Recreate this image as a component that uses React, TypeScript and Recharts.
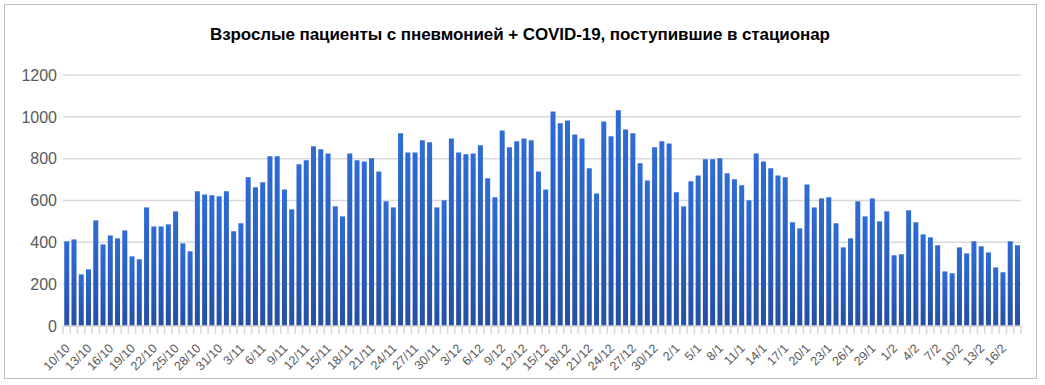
import React from "react";
import { BarChart, Bar, XAxis, YAxis, CartesianGrid } from "recharts";

const TITLE = "Взрослые пациенты с пневмонией + COVID-19, поступившие в стационар";

const dates = (
  "10/10 11/10 12/10 13/10 14/10 15/10 16/10 17/10 18/10 19/10 20/10 21/10 22/10 23/10 24/10 25/10 26/10 27/10 28/10 29/10 30/10 31/10 " +
  "1/11 2/11 3/11 4/11 5/11 6/11 7/11 8/11 9/11 10/11 11/11 12/11 13/11 14/11 15/11 16/11 17/11 18/11 19/11 20/11 21/11 22/11 23/11 24/11 25/11 26/11 27/11 28/11 29/11 30/11 " +
  "1/12 2/12 3/12 4/12 5/12 6/12 7/12 8/12 9/12 10/12 11/12 12/12 13/12 14/12 15/12 16/12 17/12 18/12 19/12 20/12 21/12 22/12 23/12 24/12 25/12 26/12 27/12 28/12 29/12 30/12 31/12 " +
  "1/1 2/1 3/1 4/1 5/1 6/1 7/1 8/1 9/1 10/1 11/1 12/1 13/1 14/1 15/1 16/1 17/1 18/1 19/1 20/1 21/1 22/1 23/1 24/1 25/1 26/1 27/1 28/1 29/1 30/1 31/1 " +
  "1/2 2/2 3/2 4/2 5/2 6/2 7/2 8/2 9/2 10/2 11/2 12/2 13/2 14/2 15/2 16/2 17/2 18/2"
).split(" ");

const octNov = [
  405, 414, 247, 271, 505, 390, 433, 419, 457, 333, 319, 567, 476, 476, 486, 548, 395, 357, 644, 629, 625, 620,
  644, 453, 491, 711, 663, 687, 811, 811, 653, 558, 773, 792, 859, 845, 825, 572, 524, 825, 792, 787, 802, 739,
  596, 567, 921, 830, 830, 888, 878, 567,
];
const dec = [
  601, 897, 830, 821, 825, 864, 706, 615, 935, 854, 883, 897, 888, 739, 653, 1026, 969, 983, 916, 897, 754, 634,
  978, 907, 1031, 940, 921, 778, 696, 854, 883,
];
const jan = [
  873, 639, 572, 692, 720, 797, 797, 802, 730, 701, 673, 601, 825, 787, 754, 720, 711, 496, 467, 677, 567, 610,
  615, 491, 376, 419, 596, 524, 610, 500, 548,
];
const feb = [338, 343, 553, 496, 438, 424, 386, 261, 252, 376, 347, 405, 381, 352, 280, 257, 405, 386];

const patients = [...octNov, ...dec, ...jan, ...feb];
const yTicks = [0, 200, 400, 600, 800, 1000, 1200];

const data = dates.map((d, i) => ({ date: d, value: patients[i] }));

const W = 1045;
const H = 385;
const LEFT = 63;
const RIGHT = 24;
const STEP = (W - LEFT - RIGHT) / dates.length;
const GRAY = "#d9d9d9";
const TEXT = "#595959";

const DateTick = (props: any) => {
  const { x, y, payload, index } = props;
  const tx = x + 1;
  const ty = y + 20;
  return (
    <g>
      <line x1={x - STEP / 2} x2={x - STEP / 2} y1={y} y2={y + 8} stroke={GRAY} strokeWidth={1.5} />
      {index === dates.length - 1 && (
        <line x1={x + STEP / 2} x2={x + STEP / 2} y1={y} y2={y + 8} stroke={GRAY} strokeWidth={1.5} />
      )}
      {index % 3 === 0 && (
        <text
          x={tx}
          y={ty}
          dy="0.35em"
          textAnchor="end"
          transform={`rotate(-45, ${tx}, ${ty})`}
          fontSize={12.5}
          fill={TEXT}
        >
          {payload.value}
        </text>
      )}
    </g>
  );
};

export default function App() {
  return (
    <div
      style={{
        position: "fixed",
        left: 0,
        top: 0,
        width: W,
        height: H,
        background: "#fff",
        fontFamily: "'Liberation Sans', Arial, sans-serif",
      }}
    >
      <div
        style={{
          position: "absolute",
          left: 4,
          top: 4,
          width: 1033,
          height: 375,
          border: "1px solid #bfbfbf",
          boxSizing: "border-box",
        }}
      />
      <svg width={W} height={60} style={{ position: "absolute", left: 0, top: 0 }}>
        <text
          x={520}
          y={39.5}
          textAnchor="middle"
          fontWeight="bold"
          fontSize={17}
          textLength={620}
          lengthAdjust="spacing"
          fill="#000"
        >
          {TITLE}
        </text>
      </svg>
      <div style={{ position: "absolute", left: 0, top: 0 }}>
        <BarChart
          width={W}
          height={H}
          data={data}
          margin={{ top: 75, right: RIGHT, left: 0, bottom: 9 }}
          barCategoryGap="17%"
        >
          <defs>
            <linearGradient id="barFill" x1="0" y1="0" x2="0" y2="1">
              <stop offset="0%" stopColor="#2f6cd6" />
              <stop offset="100%" stopColor="#2550a4" />
            </linearGradient>
          </defs>
          <CartesianGrid vertical={false} stroke={GRAY} strokeWidth={1.5} />
          <XAxis
            dataKey="date"
            interval={0}
            height={50}
            tickSize={0}
            tickMargin={0}
            tickLine={false}
            axisLine={{ stroke: GRAY, strokeWidth: 1.5 }}
            tick={<DateTick />}
          />
          <YAxis
            width={LEFT}
            domain={[0, 1200]}
            ticks={yTicks}
            interval={0}
            axisLine={false}
            tickLine={false}
            tickSize={0}
            tickMargin={6}
            tick={{ fontSize: 16, fill: TEXT }}
          />
          <Bar dataKey="value" fill="url(#barFill)" isAnimationActive={false} />
        </BarChart>
      </div>
    </div>
  );
}
